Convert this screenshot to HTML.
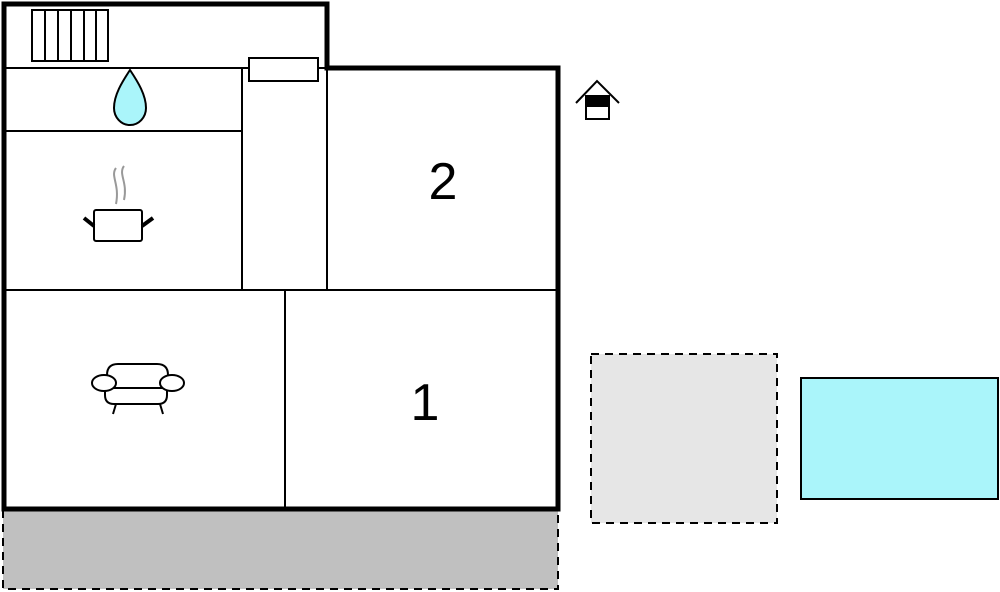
<!DOCTYPE html>
<html><head><style>body{margin:0;background:#fff}svg{display:block}</style></head><body>
<svg width="1000" height="592" viewBox="0 0 1000 592" xmlns="http://www.w3.org/2000/svg">
<rect x="3" y="510" width="555" height="79" fill="#c0c0c0" stroke="#000" stroke-width="2" stroke-dasharray="8,6"/>
<rect x="591" y="354" width="186" height="169" fill="#e6e6e6" stroke="#000" stroke-width="2" stroke-dasharray="8,6"/>
<rect x="801" y="378" width="197" height="121" fill="#aaf5fa" stroke="#000" stroke-width="2"/>
<g stroke="#000" fill="none" stroke-width="2">
<line x1="4" y1="68" x2="328" y2="68"/>
<line x1="4" y1="131" x2="242" y2="131"/>
<line x1="242" y1="68" x2="242" y2="290"/>
<line x1="327" y1="68" x2="327" y2="290"/>
<line x1="4" y1="290" x2="558" y2="290"/>
<line x1="285" y1="290" x2="285" y2="509"/>
</g>
<path d="M4 509 V4 H327 V68 H558 V509 Z" fill="none" stroke="#000" stroke-width="5"/>
<rect x="32" y="10" width="76" height="51" fill="#fff" stroke="#000" stroke-width="2"/>
<g stroke="#000" stroke-width="2"><line x1="45" y1="10" x2="45" y2="61"/><line x1="58" y1="10" x2="58" y2="61"/><line x1="71" y1="10" x2="71" y2="61"/><line x1="84" y1="10" x2="84" y2="61"/><line x1="96" y1="10" x2="96" y2="61"/></g>
<rect x="249" y="58" width="69" height="23" fill="#fff" stroke="#000" stroke-width="2"/>
<path d="M130 70 C138 82 146 95 146 108 A16 17 0 0 1 114 108 C114 95 122 82 130 70Z" fill="#aaf5fa" stroke="#000" stroke-width="2"/>
<path d="M116 168 C110 176 120 184 116 204 M124 166 C118 174 128 182 124 200" stroke="#999" stroke-width="2" fill="none"/>
<rect x="94" y="210" width="48" height="31" rx="2" fill="#fff" stroke="#000" stroke-width="2"/>
<line x1="84" y1="218" x2="94" y2="226" stroke="#000" stroke-width="4"/><line x1="153" y1="218" x2="142" y2="226" stroke="#000" stroke-width="4"/>
<g stroke="#000" stroke-width="2" fill="#fff">
<path d="M107 388 V375 Q107 364 118 364 H157 Q168 364 168 375 V388 Z"/>
<path d="M105 388 V395 Q105 404 114 404 H158 Q167 404 167 395 V388 Z"/>
<ellipse cx="104" cy="383" rx="12" ry="8"/><ellipse cx="172" cy="383" rx="12" ry="8"/>
<line x1="116" y1="404" x2="113" y2="414"/><line x1="160" y1="404" x2="163" y2="414"/>
</g>
<text x="443" y="199" font-family="Liberation Sans, sans-serif" font-size="52" text-anchor="middle">2</text>
<text x="425" y="420" font-family="Liberation Sans, sans-serif" font-size="52" text-anchor="middle">1</text>
<path d="M576 103 L597 81 L619 103" fill="none" stroke="#000" stroke-width="2"/>
<rect x="586" y="96" width="23" height="23" fill="#fff" stroke="#000" stroke-width="2"/>
<rect x="586" y="96" width="23" height="11" fill="#000"/>
</svg>
</body></html>
